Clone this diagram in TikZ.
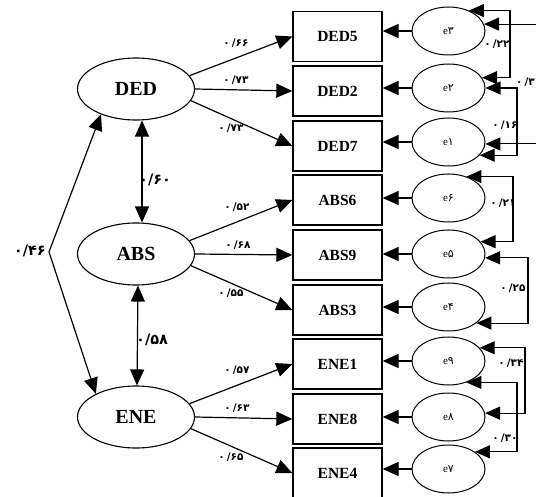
\documentclass[tikz,border=0pt]{standalone}
\usepackage{fontspec}
\setmainfont{Liberation Serif}
\newfontfamily\fanum{DejaVu Sans}
\usetikzlibrary{arrows.meta,shapes.geometric}

\begin{document}
\begin{tikzpicture}[x=1pt,y=-1pt,
    latent/.style={draw,ellipse,line width=1.1pt,minimum width=117pt,minimum height=62pt,inner sep=0pt,font=\fontsize{20}{24}\selectfont\bfseries},
    indicator/.style={draw,line width=1.3pt,minimum width=89pt,minimum height=50pt,inner sep=0pt,font=\fontsize{15.5}{18}\selectfont\bfseries},
    residual/.style={draw,ellipse,line width=1pt,minimum width=73pt,minimum height=48pt,inner sep=0pt,font=\fontsize{11}{12}\selectfont},
    load/.style={line width=1.2pt,-{Triangle[length=16pt,width=14pt]}},
    twoway/.style={line width=1.2pt,{Triangle[length=16pt,width=14pt]}-{Triangle[length=16pt,width=14pt]}},
    corr/.style={line width=1.1pt,{Triangle[length=15pt,width=13pt]}-{Triangle[length=15pt,width=13pt]}},
    coef/.style={inner sep=0pt,font=\fontsize{10.5}{12}\fanum\bfseries},
    bigcoef/.style={inner sep=0pt,font=\fontsize{14.5}{16}\fanum\bfseries}]

    \useasboundingbox[fill=white] (0,0) rectangle (536,497);

    % latent factors
    \node[latent] (DED) at (136,89) {DED};
    \node[latent] (ABS) at (136,254) {ABS};
    \node[latent] (ENE) at (136,417) {ENE};

    % observed items
    \node[indicator] (DED5) at (337.5,36.5) {DED5};
    \node[indicator] (DED2) at (337.5,91) {DED2};
    \node[indicator] (DED7) at (337.5,146) {DED7};
    \node[indicator] (ABS6) at (337.5,200) {ABS6};
    \node[indicator] (ABS9) at (337.5,255) {ABS9};
    \node[indicator] (ABS3) at (337.5,310) {ABS3};
    \node[indicator] (ENE1) at (337.5,364) {ENE1};
    \node[indicator] (ENE8) at (337.5,419) {ENE8};
    \node[indicator] (ENE4) at (337.5,473) {ENE4};

    % error terms
    \node[residual] (e3) at (448.5,31) {e{\fanum ۳}};
    \node[residual] (e2) at (448.5,88) {e{\fanum ۲}};
    \node[residual] (e1) at (448.5,142) {e{\fanum ۱}};
    \node[residual] (e6) at (448.5,198) {e{\fanum ۶}};
    \node[residual] (e5) at (448.5,254) {e{\fanum ۵}};
    \node[residual] (e4) at (448.5,307) {e{\fanum ۴}};
    \node[residual] (e9) at (448.5,361) {e{\fanum ۹}};
    \node[residual] (e8) at (448.5,417) {e{\fanum ۸}};
    \node[residual] (e7) at (448.5,469) {e{\fanum ۷}};

    % loadings
    \draw[load] (DED.14) -- (DED5.west);
    \draw[load] (DED.east) -- (DED2.west);
    \draw[load] (DED.-12) -- (DED7.west);
    \draw[load] (ABS.14) -- (ABS6.west);
    \draw[load] (ABS.east) -- (ABS9.west);
    \draw[load] (ABS.-12) -- (ABS3.west);
    \draw[load] (ENE.14) -- (ENE1.west);
    \draw[load] (ENE.east) -- (ENE8.west);
    \draw[load] (ENE.-12) -- (ENE4.west);

    \node[coef] (lD5) at (236,43) {۰\kern2pt/۶۶};
    \node[coef] (lD2) at (236,80) {۰\kern2pt/۷۳};
    \node[coef] (lD7) at (231,128) {۰\kern2pt/۷۳};
    \node[coef] (lA6) at (237,207) {۰\kern2pt/۵۲};
    \node[coef] (lA9) at (238,245) {۰\kern2pt/۶۸};
    \node[coef] (lA3) at (231,293) {۰\kern2pt/۵۵};
    \node[coef] (lE1) at (237,370) {۰\kern2pt/۵۷};
    \node[coef] (lE8) at (237,408) {۰\kern2pt/۶۳};
    \node[coef] (lE4) at (231,457) {۰\kern2pt/۶۵};

    % errors into items
    \draw[load] (e3.west) -- (e3.west -| DED5.east);
    \draw[load] (e2.west) -- (e2.west -| DED2.east);
    \draw[load] (e1.west) -- (e1.west -| DED7.east);
    \draw[load] (e6.west) -- (e6.west -| ABS6.east);
    \draw[load] (e5.west) -- (e5.west -| ABS9.east);
    \draw[load] (e4.west) -- (e4.west -| ABS3.east);
    \draw[load] (e9.west) -- (e9.west -| ENE1.east);
    \draw[load] (e8.west) -- (e8.west -| ENE8.east);
    \draw[load] (e7.west) -- (e7.west -| ENE4.east);

    % error covariances
    \coordinate (r0) at (548,0);
    \coordinate (r1) at (510,0);
    \coordinate (r2) at (517,0);
    \coordinate (r3) at (513,0);
    \coordinate (r4) at (528,0);
    \coordinate (r5) at (525,0);
    \coordinate (r6) at (517,0);
    \draw[corr] (e3.11) -| (r0 |- e1.-3) -- (e1.-3);
    \draw[corr] (e3.45) -| (r1 |- e2.17) -- (e2.17);
    \draw[corr] (e2.east) -| (r2 |- e1.-23) -- (e1.-23);
    \draw[corr] (e6.50) -| (r3 |- e5.21) -- (e5.21);
    \draw[corr] (e5.-6) -| (r4 |- e4.-30) -- (e4.-30);
    \draw[corr] (e9.23) -| (r5 |- e8.6) -- (e8.6);
    \draw[corr] (e9.-50) -| (r6 |- e7.33) -- (e7.33);

    \node[coef] (c32) at (497,44) {۰\kern2pt/۲۲};
    \node[coef,anchor=east] (c31) at (535,82) {۰\kern2pt/۳};
    \node[coef] (c21) at (505,125) {۰\kern2pt/۱۶};
    \node[coef] (c65) at (503,203) {۰\kern2pt/۲۱};
    \node[coef] (c54) at (513,288) {۰\kern2pt/۲۵};
    \node[coef] (c98) at (511,363) {۰\kern2pt/۳۴};
    \node[coef] (c97) at (505,438) {۰\kern2pt/۳۰};

    % factor correlations
    \coordinate (bend) at (49,252);
    \draw[twoway] ([xshift=6pt]DED.south) -- ([xshift=6pt]ABS.north);
    \draw[twoway] ([xshift=2pt]ABS.south) -- ([xshift=1pt]ENE.north);
    \draw[twoway] (DED.216) -- (bend) -- (ENE.150);
    \node[bigcoef,anchor=west] (rDA) at (139,180) {۰/۶۰};
    \node[bigcoef,anchor=west] (rAE) at (136,340) {۰/۵۸};
    \node[bigcoef,anchor=east] (rDE) at (46,251) {۰/۴۶};
\end{tikzpicture}
\end{document}
